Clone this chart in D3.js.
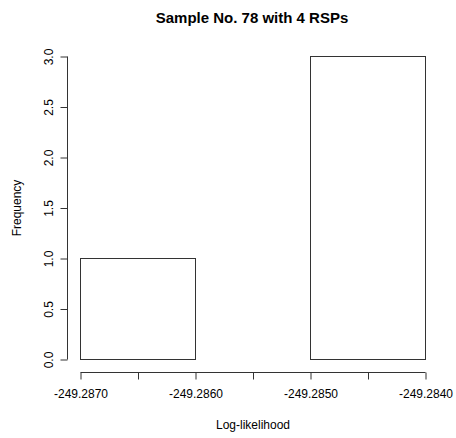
<!DOCTYPE html>
<html>
<head>
<meta charset="utf-8">
<script src="https://cdn.jsdelivr.net/npm/d3@7"></script>
<style>
  body { margin: 0; background: #fff; }
  text { font-family: "Liberation Sans", Arial, sans-serif; fill: #000; }
</style>
</head>
<body>
<div id="chart"></div>
<script>
const binStarts = [-249.2870, -249.2860, -249.2850];
const binWidth = 0.0010;
const counts = [1, 0, 3];
const xTicks = [-249.2870, -249.2865, -249.2860, -249.2855, -249.2850, -249.2845, -249.2840];
const xLabels = ["-249.2870", "", "-249.2860", "", "-249.2850", "", "-249.2840"];
const yTicks = [0, 0.5, 1, 1.5, 2, 2.5, 3];

const width = 456, height = 438;

const svg = d3.select("#chart")
  .append("svg")
  .attr("width", width)
  .attr("height", height);

const x = d3.scaleLinear()
  .domain([-249.2870, -249.2840])
  .range([80.5, 425.5]);

const y = d3.scaleLinear()
  .domain([0, 3])
  .range([359.5, 56.5]);

// bars
svg.append("g")
  .selectAll("rect")
  .data(binStarts.map((s, i) => ({ start: s, count: counts[i] })))
  .enter().append("rect")
  .attr("x", d => x(d.start))
  .attr("y", d => y(d.count))
  .attr("width", d => x(d.start + binWidth) - x(d.start))
  .attr("height", d => y(0) - y(d.count))
  .attr("fill", "none")
  .attr("stroke", "#333")
  .attr("stroke-width", 1);

// x axis
const xAxis = svg.append("g")
  .attr("transform", "translate(0,372.5)")
  .call(d3.axisBottom(x)
    .tickValues(xTicks)
    .tickSize(7)
    .tickPadding(10)
    .tickFormat((d, i) => xLabels[i]));
xAxis.select(".domain").attr("d", `M${x(xTicks[0])},0H${x(xTicks[6])}`).attr("stroke", "#333");
xAxis.selectAll(".tick line").attr("stroke", "#333");
xAxis.selectAll("text")
  .style("font-size", "12px")
  .attr("fill", "#000");

// y axis
const yAxis = svg.append("g")
  .attr("transform", "translate(67.5,0)")
  .call(d3.axisLeft(y)
    .tickValues(yTicks)
    .tickSize(7)
    .tickFormat(d3.format(".1f")));
yAxis.select(".domain").attr("d", `M0,${y(0)}V${y(3)}`).attr("stroke", "#333");
yAxis.selectAll(".tick line").attr("stroke", "#333");
yAxis.selectAll("text")
  .style("font-size", "12px")
  .attr("fill", "#000")
  .attr("x", null)
  .attr("dy", null)
  .attr("text-anchor", "middle")
  .attr("transform", "translate(-15,0) rotate(-90)");

// titles
svg.append("text")
  .attr("x", 252)
  .attr("y", 22.5)
  .attr("text-anchor", "middle")
  .style("font-size", "15px")
  .style("font-weight", "bold")
  .text("Sample No. 78 with 4 RSPs");

svg.append("text")
  .attr("x", 253)
  .attr("y", 429)
  .attr("text-anchor", "middle")
  .style("font-size", "12px")
  .text("Log-likelihood");

svg.append("text")
  .attr("transform", "translate(21,208) rotate(-90)")
  .attr("text-anchor", "middle")
  .style("font-size", "12px")
  .text("Frequency");
</script>
</body>
</html>
